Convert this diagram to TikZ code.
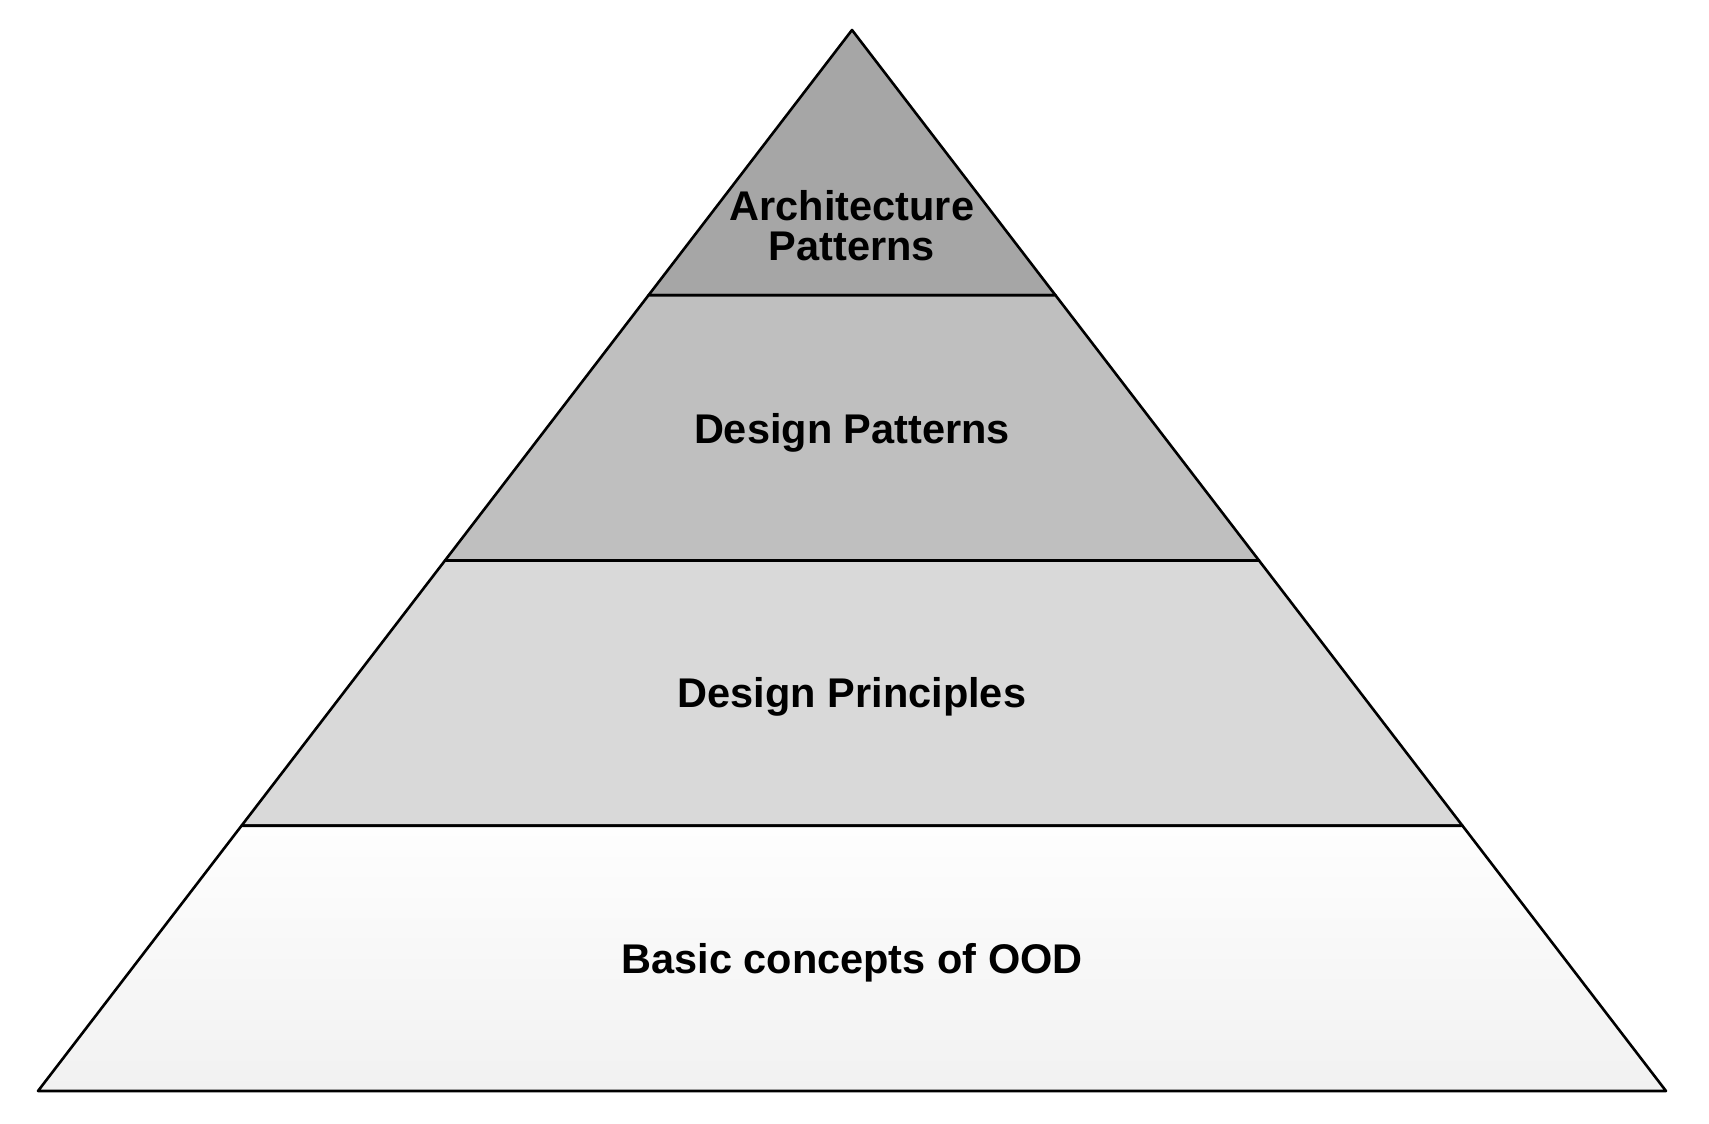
\documentclass[tikz,border=0pt]{standalone}
\usepackage{fontspec}
\setmainfont{Liberation Sans}
\usetikzlibrary{calc}
\definecolor{levelone}{RGB}{166,166,166}
\definecolor{leveltwo}{RGB}{191,191,191}
\definecolor{levelthree}{RGB}{217,217,217}
\definecolor{basetop}{RGB}{254,254,254}
\definecolor{basebottom}{RGB}{241,241,241}

\begin{document}
\begin{tikzpicture}[
        x=1pt, y=-1pt,
        band/.style={draw=black, line width=2.6pt, line join=round},
        layertext/.style={font=\fontsize{41.5}{40}\selectfont\bfseries,
                          align=center, inner sep=0pt}
    ]
        \useasboundingbox (0,0) rectangle (1709,1124);

        % pyramid corners and level edges
        \coordinate (apex) at (852,30);
        \coordinate (bl) at (38,1091);
        \coordinate (br) at (1666,1091);
        \foreach \k/\f in {1/0.25, 2/0.5, 3/0.75} {
            \coordinate (l\k) at ($(apex)!\f!(bl)$);
            \coordinate (r\k) at ($(apex)!\f!(br)$);
        }

        \draw[band, fill=levelone] (apex) -- (r1) -- (l1) -- cycle;
        \draw[band, fill=leveltwo] (l1) -- (r1) -- (r2) -- (l2) -- cycle;
        \draw[band, fill=levelthree] (l2) -- (r2) -- (r3) -- (l3) -- cycle;
        \draw[band, top color=basetop, bottom color=basebottom]
            (l3) -- (r3) -- (br) -- (bl) -- cycle;

        \node[layertext, anchor=north] (arch) at (852,190.7) {Architecture\\Patterns};
        \node[layertext, anchor=base] (dpat) at (852,443.5) {Design Patterns};
        \node[layertext, anchor=base] (dpri) at (852,707.7) {Design Principles};
        \node[layertext, anchor=base] (ood) at (852,973.3) {Basic concepts of OOD};
    \end{tikzpicture}
\end{document}
